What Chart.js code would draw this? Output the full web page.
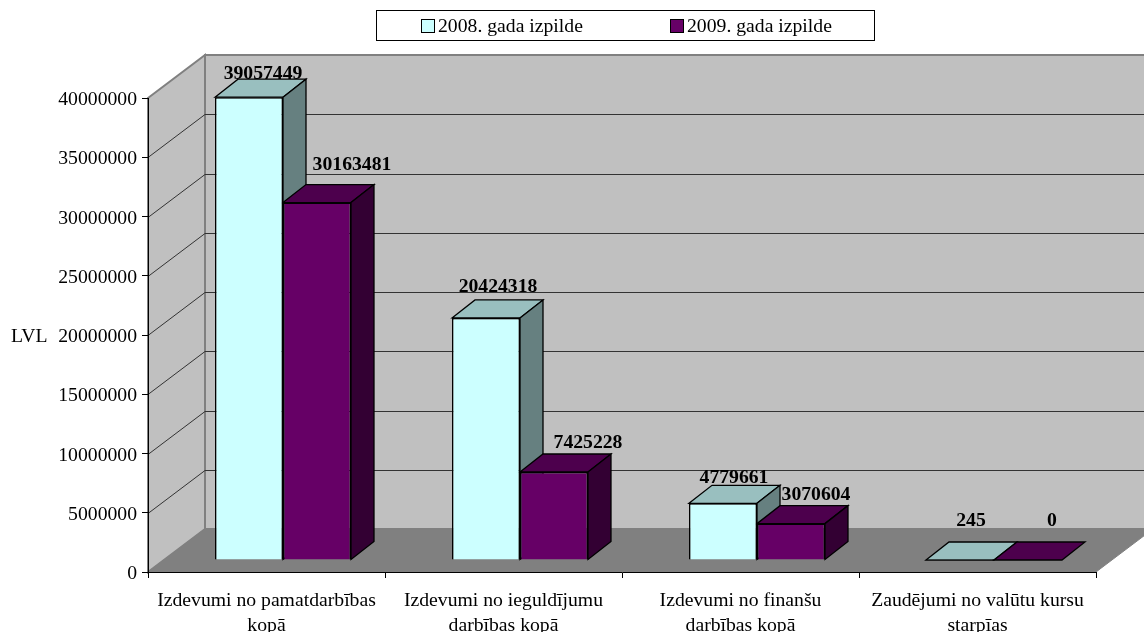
<!DOCTYPE html>
<html>
<head>
<meta charset="utf-8">
<style>
    body { margin: 0; background: #fff; }
    canvas { display: block; }
</style>
<script src="https://cdn.jsdelivr.net/npm/chart.js@4"></script>
</head>
<body>
<canvas id="myChart" width="1144" height="632"></canvas>
<script>
const categories = [
    ['Izdevumi no pamatdarbības', 'kopā'],
    ['Izdevumi no ieguldījumu', 'darbības kopā'],
    ['Izdevumi no finanšu', 'darbības kopā'],
    ['Zaudējumi no valūtu kursu', 'starpīas']
];
const seriesNames = ['2008. gada izpilde', '2009. gada izpilde'];
const values2008 = [39057449, 20424318, 4779661, 245];
const values2009 = [30163481, 7425228, 3070604, 0];
const yTicks = [0, 5000000, 10000000, 15000000, 20000000, 25000000, 30000000, 35000000, 40000000];

const FONT = '"Liberation Serif", "Times New Roman", serif';
const FONT_SIZE = 19.7;

// how far the walls go back, and where the bars stand on the floor
const wallDepth = { x: 57, y: -43 };
const barShift = { x: 16.5, y: -12 };
const barDepth = { x: 23, y: -18 };

// the value labels were moved by hand in the original, so each has its own offset
const labelOffsets = [
    [[14, -23], [12, -31], [11, -25], [11, -39]],
    [[35, -38], [34, -29], [25, -29], [24, -39]]
];

const seriesColors = [
    { front: '#CCFFFF', top: '#99BFBF', side: '#668080' },
    { front: '#660066', top: '#4D004D', side: '#330033' }
];

function poly(ctx, pts, fill, stroke, lineWidth) {
    ctx.beginPath();
    pts.forEach((p, i) => i ? ctx.lineTo(p[0], p[1]) : ctx.moveTo(p[0], p[1]));
    ctx.closePath();
    if (fill) {
        ctx.fillStyle = fill;
        ctx.fill();
    }
    if (stroke) {
        ctx.strokeStyle = stroke;
        ctx.lineWidth = lineWidth || 1;
        ctx.stroke();
    }
}

// top and right side of every bar of one series
function barFaces(chart, index) {
    const ctx = chart.ctx;
    const colors = seriesColors[index];
    const dx = barDepth.x, dy = barDepth.y;
    chart.getDatasetMeta(index).data.forEach((bar) => {
        const l = bar.x - bar.width / 2;
        const r = bar.x + bar.width / 2;
        poly(ctx, [[l, bar.y], [l + dx, bar.y + dy], [r + dx, bar.y + dy], [r, bar.y]], colors.top, '#000', 1.3);
        if (bar.base - bar.y > 1) {
            poly(ctx, [[r, bar.y], [r + dx, bar.y + dy], [r + dx, bar.base + dy], [r, bar.base]], colors.side, '#000', 1.3);
        }
    });
}

const walls3d = {
    id: 'walls3d',
    beforeDraw(chart) {
        const ctx = chart.ctx;
        const { left, right, top, bottom } = chart.chartArea;
        const dx = wallDepth.x, dy = wallDepth.y;
        ctx.save();
        // back wall, left wall, floor
        poly(ctx, [[left + dx, top + dy], [right + dx, top + dy], [right + dx, bottom + dy], [left + dx, bottom + dy]], '#C0C0C0', '#808080', 2);
        poly(ctx, [[left, top], [left + dx, top + dy], [left + dx, bottom + dy], [left, bottom]], '#C0C0C0', '#808080', 2);
        // grid lines run across the left wall and then along the back wall
        yTicks.slice(1, -1).forEach((v) => {
            const py = Math.round(chart.scales.y.getPixelForValue(v)) + 0.5;
            ctx.beginPath();
            ctx.moveTo(left, py);
            ctx.lineTo(left + dx, py + dy);
            ctx.lineTo(right + dx, py + dy);
            ctx.strokeStyle = '#333';
            ctx.lineWidth = 1;
            ctx.stroke();
        });
        poly(ctx, [[left, bottom], [right, bottom], [right + dx, bottom + dy], [left + dx, bottom + dy]], '#808080', '#808080', 1);
        ctx.restore();
    },
    beforeDatasetsDraw(chart) {
        chart.ctx.save();
        chart.ctx.translate(barShift.x, barShift.y);
        // the library paints the second series first, so the faces of the first go under it
        barFaces(chart, 0);
    },
    afterDatasetDraw(chart, args) {
        if (args.index === 1) {
            barFaces(chart, 1);
        }
    },
    afterDatasetsDraw(chart) {
        const ctx = chart.ctx;
        ctx.font = 'bold ' + FONT_SIZE + 'px ' + FONT;
        ctx.fillStyle = '#000';
        ctx.textAlign = 'center';
        ctx.textBaseline = 'middle';
        chart.data.datasets.forEach((ds, i) => {
            chart.getDatasetMeta(i).data.forEach((bar, j) => {
                const off = labelOffsets[i][j];
                ctx.fillText(String(ds.data[j]), bar.x + off[0], bar.y + off[1]);
            });
        });
        ctx.restore();
    },
    afterDraw(chart) {
        const ctx = chart.ctx;
        ctx.save();
        // legend frame
        ctx.fillStyle = '#fff';
        ctx.fillRect(376, 10, 498, 31);
        ctx.strokeStyle = '#000';
        ctx.lineWidth = 1;
        ctx.strokeRect(376.5, 10.5, 498, 30);
        ctx.font = FONT_SIZE + 'px ' + FONT;
        ctx.textAlign = 'left';
        ctx.textBaseline = 'middle';
        [421, 670].forEach((x, i) => {
            ctx.fillStyle = seriesColors[i].front;
            ctx.fillRect(x + 0.5, 19.5, 13, 13);
            ctx.strokeStyle = '#000';
            ctx.strokeRect(x + 0.5, 19.5, 13, 13);
            ctx.fillStyle = '#000';
            ctx.fillText(seriesNames[i], x + 17, 27);
        });
        // axis name sits beside the 20000000 tick
        ctx.fillText('LVL', 11, chart.scales.y.getPixelForValue(20000000) + 2);
        ctx.restore();
    }
};

function drawChart() {
    const ctx = document.getElementById('myChart');
    new Chart(ctx, {
        type: 'bar',
        plugins: [walls3d],
        data: {
            labels: categories,
            datasets: [
                { label: seriesNames[0], data: values2008, backgroundColor: seriesColors[0].front },
                { label: seriesNames[1], data: values2009, backgroundColor: seriesColors[1].front }
            ]
        },
        options: {
            responsive: false,
            animation: false,
            layout: { padding: { top: 98, right: 48, left: 0, bottom: 0 } },
            datasets: {
                bar: {
                    barPercentage: 1,
                    categoryPercentage: 0.5738,
                    borderColor: '#000',
                    borderWidth: 1.5,
                    clip: false
                }
            },
            scales: {
                x: {
                    afterFit: (s) => { s.height = 60; },
                    grid: { drawOnChartArea: false, color: '#000', tickLength: 6 },
                    border: { color: '#000' },
                    ticks: {
                        autoSkip: false,
                        maxRotation: 0,
                        padding: 10,
                        color: '#000',
                        font: { family: FONT, size: FONT_SIZE, lineHeight: 1.28 }
                    }
                },
                y: {
                    min: 0,
                    max: 40000000,
                    afterFit: (s) => { s.width = 148; },
                    afterBuildTicks: (s) => { s.ticks = yTicks.map((v) => ({ value: v })); },
                    grid: { drawOnChartArea: false, color: '#000', tickLength: 6 },
                    border: { color: '#000' },
                    ticks: {
                        padding: 5,
                        labelOffset: 2,
                        color: '#000',
                        font: { family: FONT, size: FONT_SIZE },
                        callback: (v) => String(v)
                    }
                }
            },
            plugins: {
                legend: { display: false },
                tooltip: { enabled: false }
            }
        }
    });
}

drawChart();
</script>
</body>
</html>
